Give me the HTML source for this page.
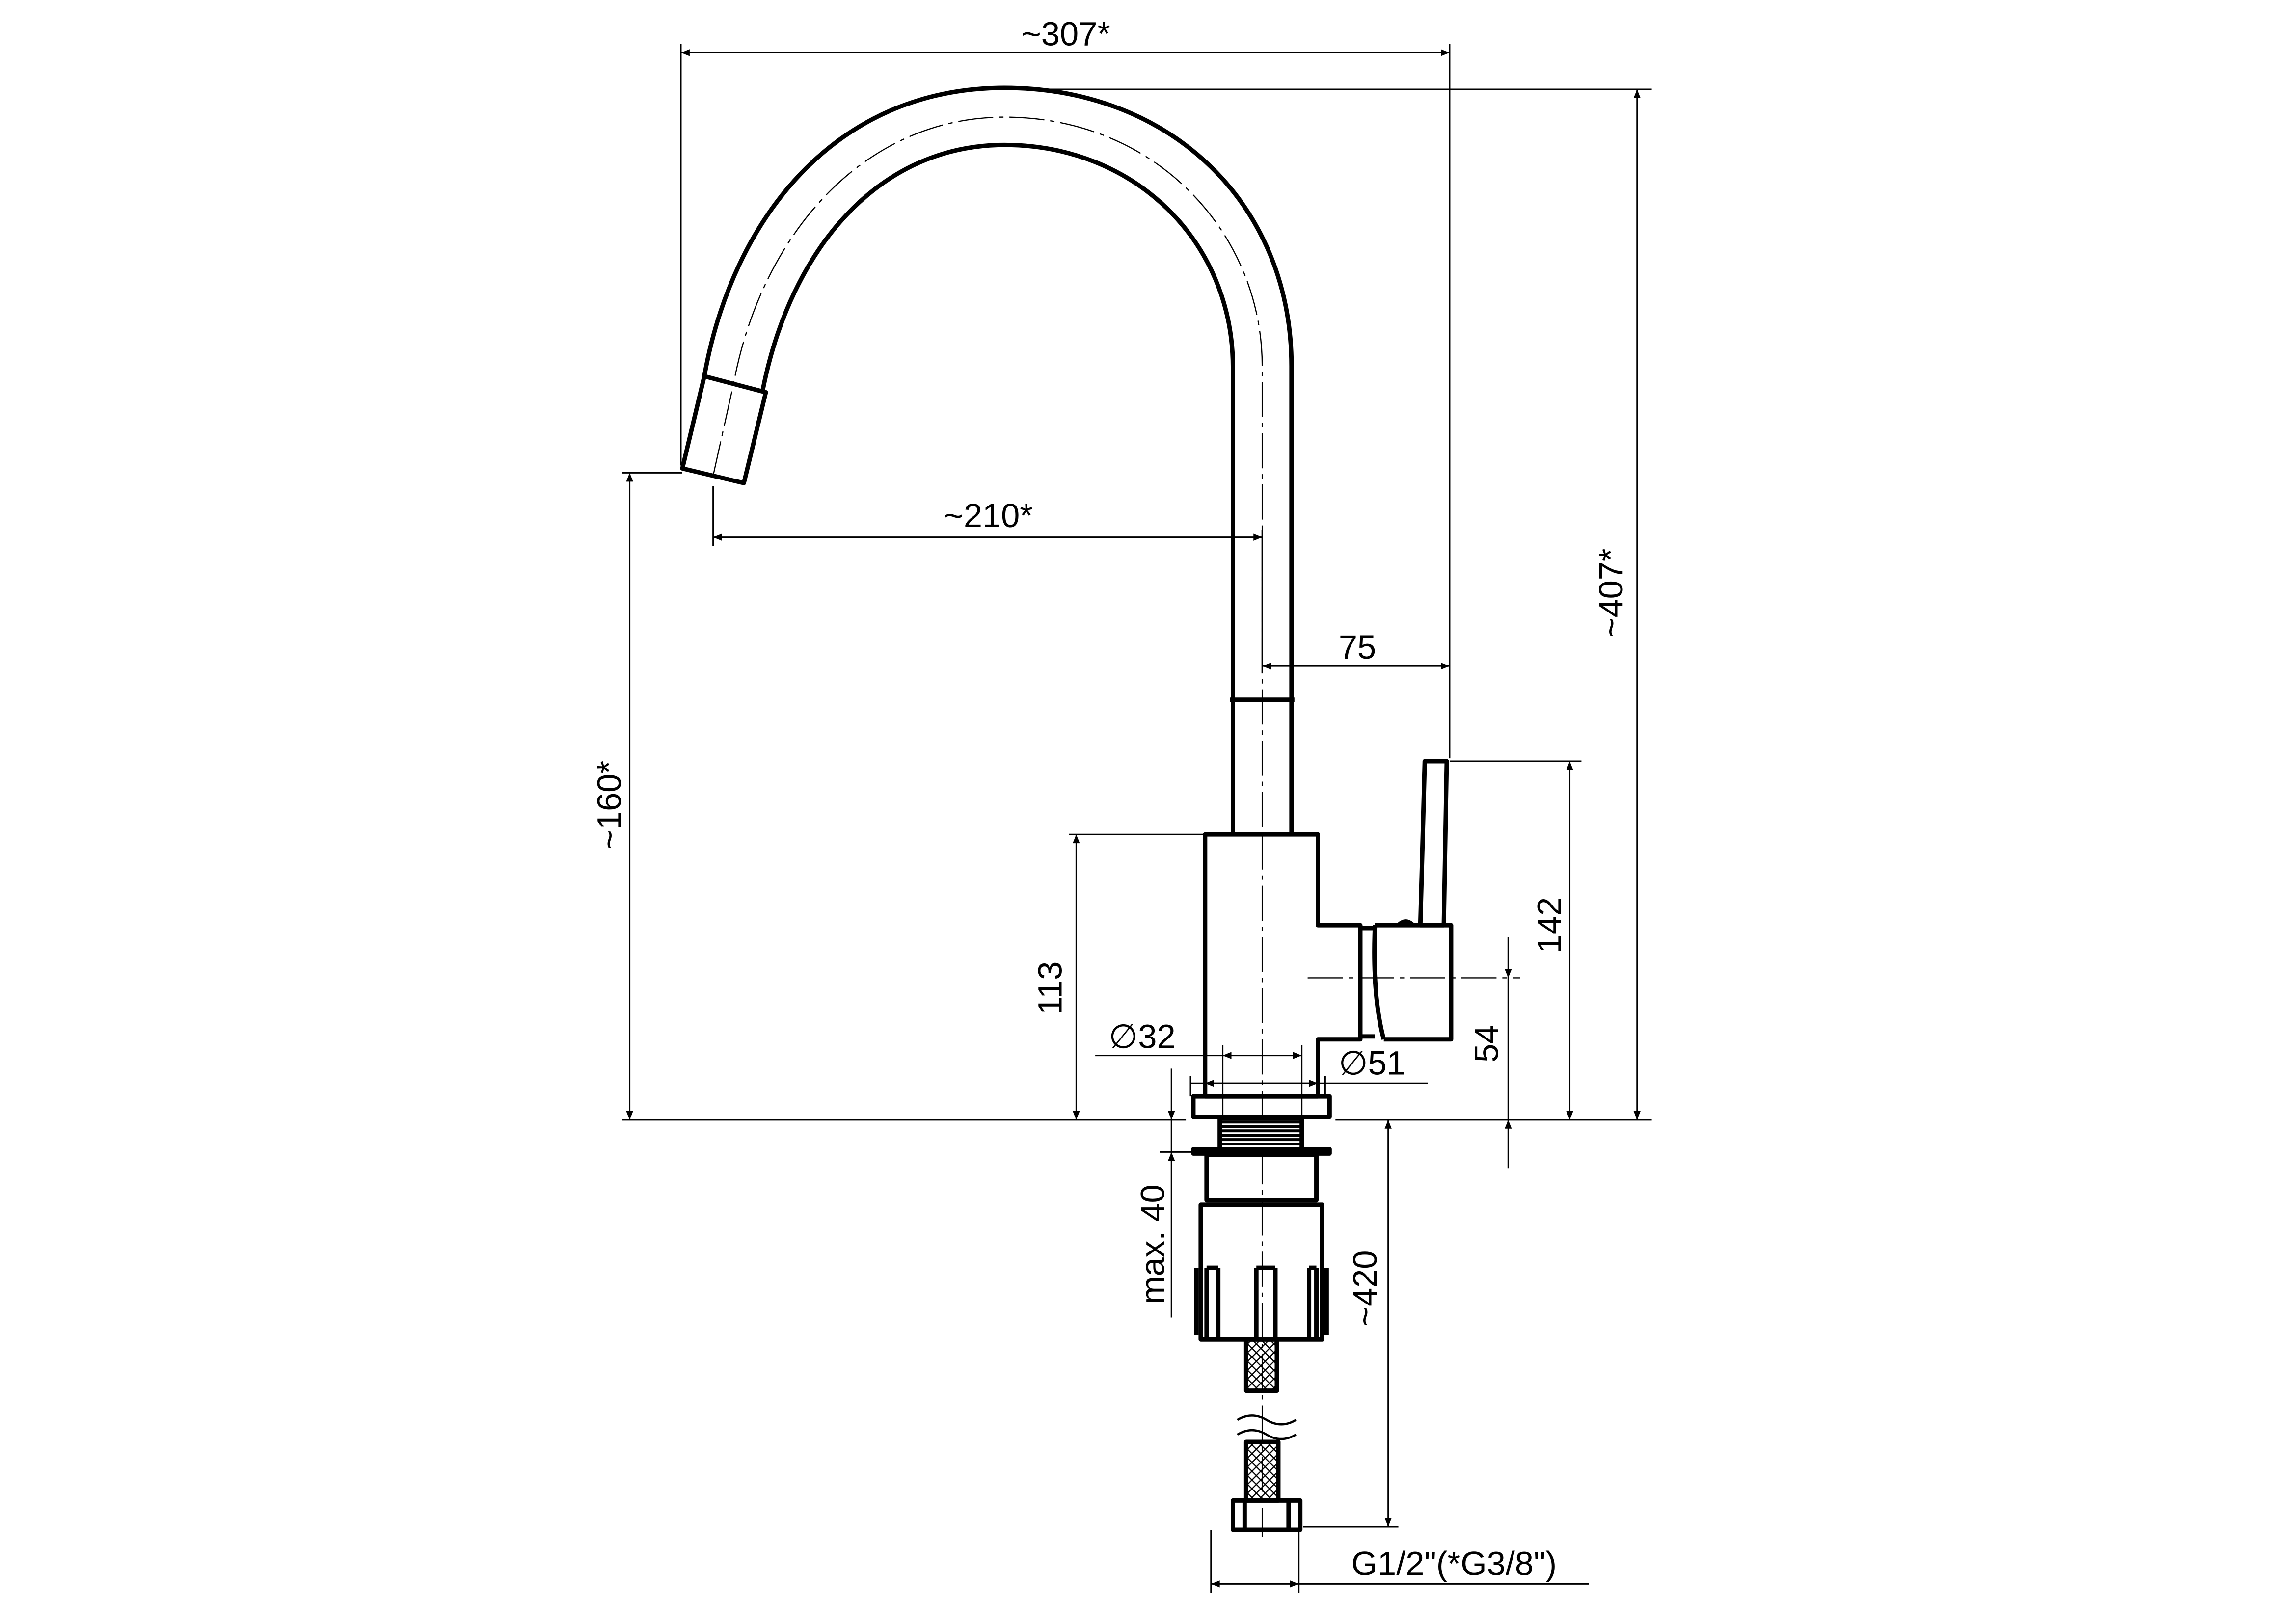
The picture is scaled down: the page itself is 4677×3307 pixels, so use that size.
<!DOCTYPE html>
<html><head><meta charset="utf-8"><style>
html,body{margin:0;padding:0;background:#fff}
svg{display:block}
text{font-family:"Liberation Sans",sans-serif;font-size:23px;fill:#000}
</style></head><body>
<svg width="4677" height="3307" viewBox="0 0 1568 1108.7" xmlns="http://www.w3.org/2000/svg">
<defs>
<marker id="a" viewBox="0 0 10 10" refX="10" refY="5" markerWidth="14" markerHeight="6" orient="auto-start-reverse" markerUnits="userSpaceOnUse"><path d="M0,1 L10,5 L0,9 z" fill="#000"/></marker>
<pattern id="x" width="6" height="6" patternUnits="userSpaceOnUse"><path d="M0,0L6,6M6,0L0,6" stroke="#000" stroke-width="0.8"/></pattern>
<pattern id="t" width="3" height="3" patternUnits="userSpaceOnUse"><rect width="3" height="3" fill="#fff"/><path d="M0,1.5H3" stroke="#000" stroke-width="2"/></pattern>
</defs>
<g fill="none" stroke="#000" stroke-width="1">
<line x1="465" y1="30" x2="465" y2="318"/>
<line x1="990" y1="30" x2="990" y2="518"/>
<line x1="686" y1="61" x2="1128" y2="61"/>
<line x1="425" y1="765" x2="810" y2="765"/>
<line x1="912" y1="765" x2="1128" y2="765"/>
<line x1="425" y1="323" x2="466" y2="323"/>
<line x1="487" y1="332" x2="487" y2="373"/>
<line x1="862" y1="362" x2="862" y2="460"/>
<line x1="730" y1="570" x2="823" y2="570"/>
<line x1="990" y1="520" x2="1080" y2="520"/>
<line x1="835" y1="714" x2="835" y2="765"/>
<line x1="889" y1="714" x2="889" y2="765"/>
<line x1="813" y1="735" x2="813" y2="749"/>
<line x1="905" y1="735" x2="905" y2="749"/>
<line x1="748" y1="721" x2="835" y2="721"/>
<line x1="813" y1="740" x2="975" y2="740"/>
<line x1="827" y1="1045" x2="827" y2="1088"/>
<line x1="887" y1="1045" x2="887" y2="1088"/>
<line x1="887" y1="1082" x2="1085" y2="1082"/>
<line x1="890" y1="1043" x2="955" y2="1043"/>
<line x1="792" y1="787" x2="817" y2="787"/>
<line x1="465" y1="36" x2="990" y2="36" marker-start="url(#a)" marker-end="url(#a)"/>
<line x1="1118" y1="61" x2="1118" y2="765" marker-start="url(#a)" marker-end="url(#a)"/>
<line x1="487" y1="367" x2="862" y2="367" marker-start="url(#a)" marker-end="url(#a)"/>
<line x1="430" y1="323" x2="430" y2="765" marker-start="url(#a)" marker-end="url(#a)"/>
<line x1="862" y1="455" x2="990" y2="455" marker-start="url(#a)" marker-end="url(#a)"/>
<line x1="735" y1="570" x2="735" y2="765" marker-start="url(#a)" marker-end="url(#a)"/>
<line x1="1072" y1="520" x2="1072" y2="765" marker-start="url(#a)" marker-end="url(#a)"/>
<line x1="1030" y1="640" x2="1030" y2="668" marker-end="url(#a)"/>
<line x1="1030" y1="765" x2="1030" y2="798" marker-start="url(#a)"/>
<line x1="1030" y1="668" x2="1030" y2="765"/>
<line x1="835" y1="721" x2="889" y2="721" marker-start="url(#a)" marker-end="url(#a)"/>
<line x1="823" y1="740" x2="900" y2="740" marker-start="url(#a)" marker-end="url(#a)"/>
<line x1="800" y1="730" x2="800" y2="765" marker-end="url(#a)"/>
<line x1="800" y1="787" x2="800" y2="900" marker-start="url(#a)"/>
<line x1="800" y1="765" x2="800" y2="787"/>
<line x1="948" y1="765" x2="948" y2="1043" marker-start="url(#a)" marker-end="url(#a)"/>
<line x1="827" y1="1082" x2="887" y2="1082" marker-start="url(#a)" marker-end="url(#a)"/>
<g stroke-dasharray="24,4,3,4" stroke-width="0.8">
<path d="M487,325 L501,262 C520,160 590,80 686,80 C790,80 862,160 862,250 L862,570"/>
<line x1="862" y1="570" x2="862" y2="770"/>
<line x1="893" y1="668" x2="1038" y2="668"/>
<line x1="862" y1="785" x2="862" y2="1050"/>
</g>
</g>
<g fill="none" stroke="#000" stroke-width="3" stroke-linejoin="round">
<path d="M481,257 C500,150 570,60 686,60 C800,60 882,140 882,250 L882,570"/>
<path d="M521,266 C540,170 600,99 686,99 C775,99 842,165 842,251 L842,570"/>
<path d="M481,257 L523,268 L508,330 L466,320 Z"/>
<line x1="840" y1="478" x2="884" y2="478"/>
<path d="M823,570 H900 V632 H929 V710 H900 V749 H823 Z"/>
<path d="M929,634 H939 M929,708 H939"/>
<path d="M939,632 H991 V710 H945"/>
<path d="M939,632 Q937,680 945,710"/>
<path d="M973,520 L988,520 L986,632 L970,632 Z"/>
<path d="M955,632 Q960,627 965,632"/>
<rect x="815" y="749" width="93" height="14"/>
<rect x="833" y="764" width="56" height="22" fill="url(#t)"/>
<rect x="815" y="785" width="93" height="3" fill="#000"/>
<rect x="824" y="789" width="75" height="31"/>
<rect x="820" y="823" width="83" height="92"/>
<path d="M824,866 V915 M832,866 V915 M824,866 H832 M858,866 V915 M871,866 V915 M858,866 H871 M894,866 V915 M899,866 V915 M894,866 H899"/>
<path d="M817,866 V912 M906,866 V912"/>
<rect x="851" y="915" width="21" height="35" fill="url(#x)"/>
<rect x="851" y="985" width="22" height="40" fill="url(#x)"/>
<rect x="842" y="1025" width="46" height="20"/>
<path d="M850,1025 V1045 M880,1025 V1045"/>
</g>
<g fill="none" stroke="#000" stroke-width="1.5">
<path d="M845,970 Q855,964 865,970 T885,970"/>
<path d="M845,980 Q855,974 865,980 T885,980"/>
</g>
<text x="728" y="31" text-anchor="middle">~307*</text>
<text x="675" y="360" text-anchor="middle">~210*</text>
<text x="927" y="450" text-anchor="middle">75</text>
<text x="780" y="716" text-anchor="middle">∅32</text>
<text x="937" y="734" text-anchor="middle">∅51</text>
<text x="993" y="1076" text-anchor="middle">G1/2"(*G3/8")</text>
<text transform="translate(1108,405) rotate(-90)" text-anchor="middle">~407*</text>
<text transform="translate(424,550) rotate(-90)" text-anchor="middle">~160*</text>
<text transform="translate(725,675) rotate(-90)" text-anchor="middle">113</text>
<text transform="translate(1066,632) rotate(-90)" text-anchor="middle">142</text>
<text transform="translate(1023,713) rotate(-90)" text-anchor="middle">54</text>
<text transform="translate(795,850) rotate(-90)" text-anchor="middle">max. 40</text>
<text transform="translate(940,880) rotate(-90)" text-anchor="middle">~420</text>
</svg>
</body></html>
